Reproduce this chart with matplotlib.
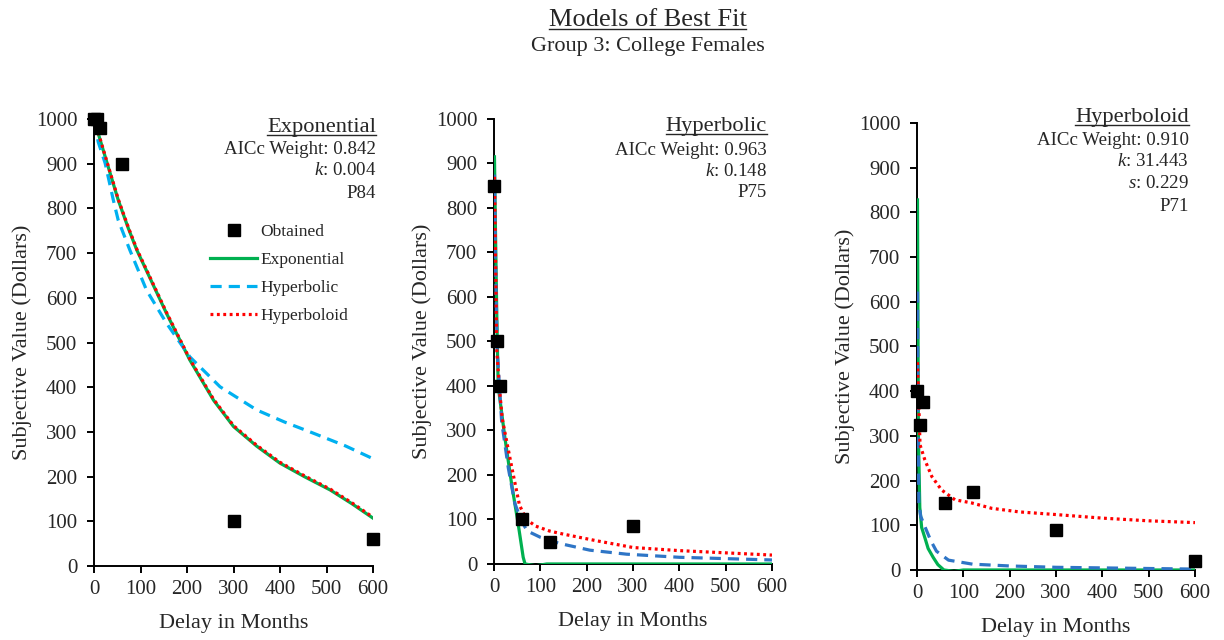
import matplotlib
matplotlib.use('Agg')
import matplotlib.pyplot as plt
from matplotlib.lines import Line2D

plt.rcParams['font.family'] = ['Liberation Serif', 'DejaVu Serif']
plt.rcParams['mathtext.fontset'] = 'custom'
plt.rcParams['mathtext.rm'] = 'Liberation Serif'
plt.rcParams['mathtext.it'] = 'Liberation Serif:italic'

TXT = '#262626'

# ---- Group 3: College Females ----
# panel 1 (exponential best fit)
obt1_x = [1, 6, 12, 60, 300, 600]
obt1_y = [1000, 1000, 980, 900, 100, 60]
exp1_x = [1, 9, 30, 52, 74, 92, 120, 156, 206, 257, 300, 350, 400, 454, 508, 555, 600]
exp1_y = [996, 968, 895, 819, 755, 707, 645, 565, 461, 371, 312, 268, 230, 199, 170, 139, 107]
hyp1_x = [1, 9, 24, 41.5, 52, 77, 113, 156, 206, 271, 350, 410, 472, 540, 600]
hyp1_y = [995, 949, 901, 819, 774, 707, 617, 543, 468, 401, 349, 322, 297, 269, 240]
hpd1_x = [1, 9, 30, 52, 74, 92, 120, 156, 206, 257, 300, 350, 400, 454, 508, 555, 600]
hpd1_y = [997, 970, 897, 821, 757, 709, 647, 567, 463, 373, 314, 270, 232, 201, 172, 141, 109]

# panel 2 (hyperbolic best fit)
obt2_x = [1, 6, 12, 60, 120, 300]
obt2_y = [850, 500, 400, 100, 50, 85]
exp2_x = [1, 3, 6, 9, 24, 38, 52, 63, 67, 90, 114, 300, 600]
exp2_y = [915, 760, 560, 400, 280, 180, 91, 15, 0, -4, 0, 0, 0]
hyp2_x = [1, 3, 7, 16.5, 31, 45, 60, 72, 100, 142, 207, 286, 400, 500, 600]
hyp2_y = [875, 690, 480, 320, 215, 136, 95, 74, 60, 46, 31, 22, 15, 12, 9]
hpd2_x = [1, 6, 12, 18, 38, 55, 70, 90, 120, 150, 222, 300, 400, 500, 600]
hpd2_y = [870, 480, 390, 325, 219, 132, 100, 85, 74, 67, 52, 37, 30, 25, 20]

# panel 3 (hyperboloid best fit)
obt3_x = [1, 6, 12, 60, 120, 300, 600]
obt3_y = [400, 325, 375, 150, 175, 90, 20]
exp3_x = [1, 3, 6, 10, 17, 24, 35, 45, 58, 80, 100, 300, 600]
exp3_y = [828, 300, 140, 95, 72, 48, 28, 12, 0, -3, 0, 0, 0]
hyp3_x = [1, 2, 4, 8, 17, 30, 42, 68, 120, 200, 300, 450, 600]
hyp3_y = [623, 350, 150, 120, 97, 65, 42, 22, 13, 9, 6, 4, 2]
hpd3_x = [1, 6.5, 17, 32, 53, 82, 118, 161, 220, 300, 400, 500, 600]
hpd3_y = [465, 280, 246, 209, 179, 157, 150, 138, 130, 124, 116, 110, 106]


def draw_panel(ax, ox, oy, ex, ey, hx, hy, dx, dy, blue):
    ax.plot(ex, ey, color='#00B050', lw=2.3, label='Exponential', zorder=2)
    ax.plot(hx, hy, color=blue, lw=2.3, linestyle=(0, (3.5, 2.2)), label='Hyperbolic', zorder=3)
    ax.plot(dx, dy, color='#FF0000', lw=2.3, linestyle=(0, (0.9, 1.1)), label='Hyperboloid', zorder=4)
    ax.plot(ox, oy, 's', color='black', markersize=8.5, linestyle='none',
            label='Obtained', zorder=5, clip_on=False)
    ax.set_xlim(0, 600)
    ax.set_ylim(0, 1000)
    ax.set_xticks(range(0, 601, 100))
    ax.set_yticks(range(0, 1001, 100))
    for s in ['top', 'right']:
        ax.spines[s].set_visible(False)
    for s in ['left', 'bottom']:
        ax.spines[s].set_linewidth(1.4)
        ax.spines[s].set_zorder(1)
    ax.tick_params(direction='out', length=5, width=1.4, labelsize=15, labelcolor=TXT)
    ax.tick_params(axis='x', pad=5)
    ax.tick_params(axis='y', pad=7)
    ax.set_xlabel('Delay in Months', fontsize=16, color=TXT, labelpad=11)
    ax.set_ylabel('Subjective Value (Dollars)', fontsize=16, color=TXT, labelpad=3)


heads = []


def info(ax, x, ys, lines):
    for i, (y, t) in enumerate(zip(ys, lines)):
        txt = ax.text(x, y, t, transform=ax.transAxes, ha='right', va='center',
                      fontsize=16.2 if i == 0 else 13.6, color=TXT)
        if i == 0:
            heads.append(txt)


fig = plt.figure(figsize=(12.24, 6.4), dpi=100)
ax1 = fig.add_axes([0.0768, 0.1156, 0.2280, 0.6984])
ax2 = fig.add_axes([0.4036, 0.1188, 0.2271, 0.6953])
ax3 = fig.add_axes([0.7492, 0.1094, 0.2271, 0.6984])

draw_panel(ax1, obt1_x, obt1_y, exp1_x, exp1_y, hyp1_x, hyp1_y, hpd1_x, hpd1_y, '#00B0F0')
draw_panel(ax2, obt2_x, obt2_y, exp2_x, exp2_y, hyp2_x, hyp2_y, hpd2_x, hpd2_y, '#2E75C6')
draw_panel(ax3, obt3_x, obt3_y, exp3_x, exp3_y, hyp3_x, hyp3_y, hpd3_x, hpd3_y, '#2E75C6')

info(ax1, 1.011, [0.982, 0.931, 0.884, 0.834],
     ['Exponential', 'AICc Weight: 0.842', r'$k$: 0.004', 'P84'])
info(ax2, 0.982, [0.982, 0.930, 0.883, 0.834],
     ['Hyperbolic', 'AICc Weight: 0.963', r'$k$: 0.148', 'P75'])
info(ax3, 0.978, [1.013, 0.960, 0.913, 0.864, 0.814],
     ['Hyperboloid', 'AICc Weight: 0.910', r'$k$: 31.443', r'$s$: 0.229', 'P71'])

# legend only on the first panel
h, l = ax1.get_legend_handles_labels()
order = [3, 0, 1, 2]
ax1.legend([h[i] for i in order], [l[i] for i in order], loc='upper left',
           bbox_to_anchor=(0.36, 0.80), frameon=False, fontsize=12.5, numpoints=1,
           handlelength=2.7, handletextpad=0.2, labelspacing=0.68, labelcolor=TXT)

title = fig.text(0.529, 0.968, 'Models of Best Fit', ha='center', va='center',
                 fontsize=19, color=TXT)
heads.append(title)
fig.text(0.529, 0.927, 'Group 3: College Females', ha='center', va='center', fontsize=16, color=TXT)

# underline the headings
fig.canvas.draw()
r = fig.canvas.get_renderer()
W, H = fig.bbox.width, fig.bbox.height
for t in heads:
    bb = t.get_window_extent(renderer=r)
    y = (bb.y0 + 2) / H
    fig.add_artist(Line2D([bb.x0 / W, bb.x1 / W], [y, y], color=TXT, lw=1.0))

fig.savefig('out.png', dpi=100)
